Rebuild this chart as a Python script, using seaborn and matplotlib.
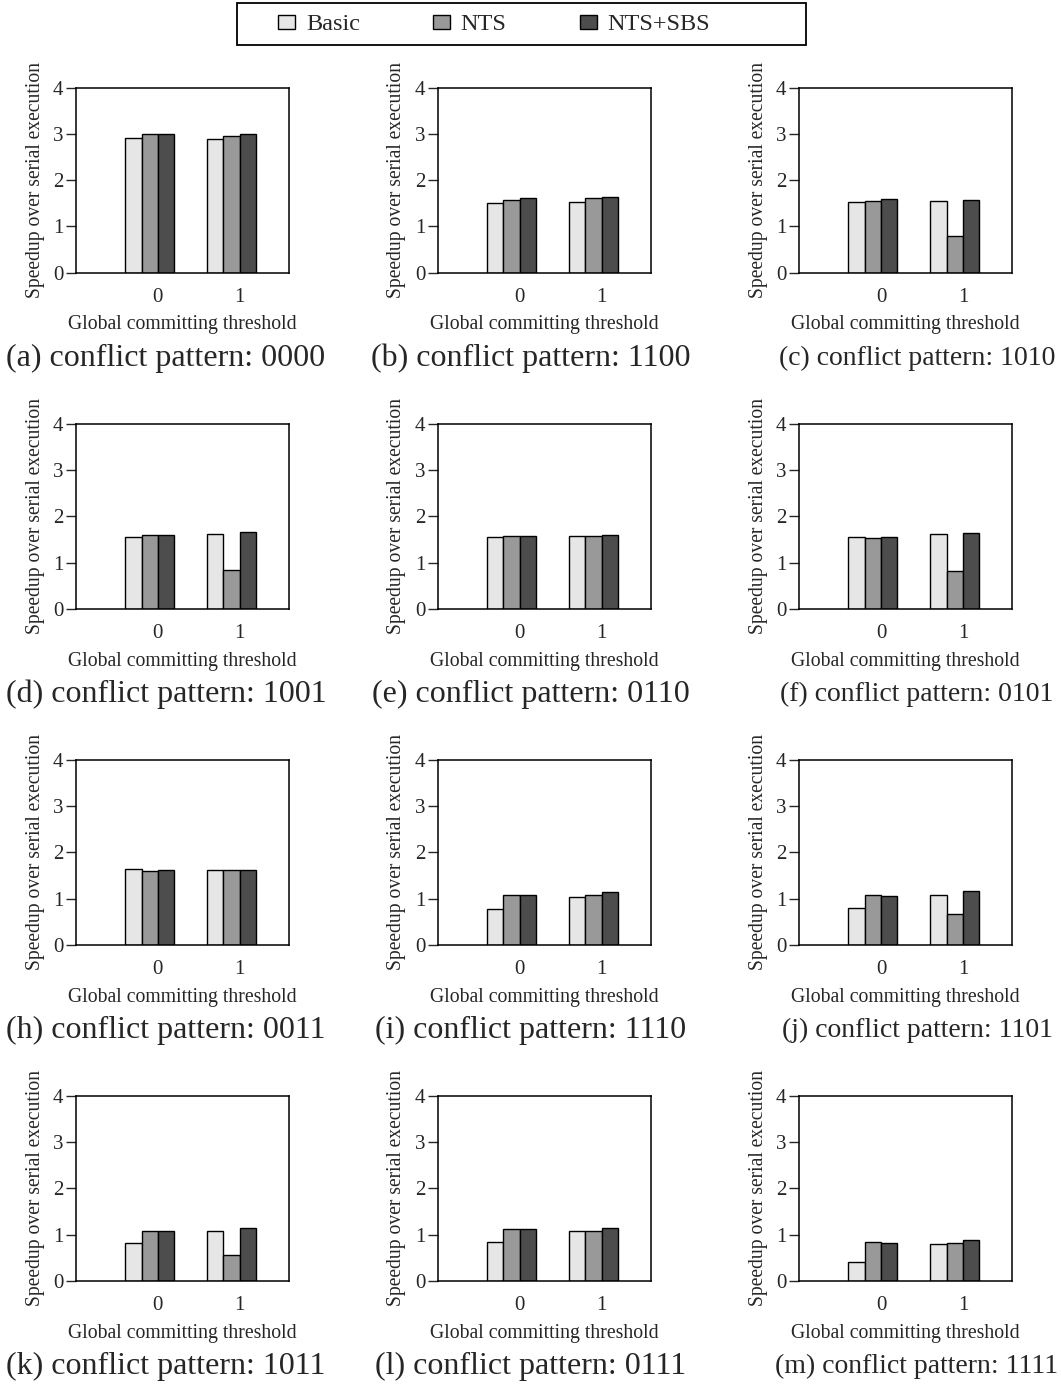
import numpy as np
import pandas as pd
import matplotlib
matplotlib.use("Agg")
import matplotlib.pyplot as plt
from matplotlib.patches import Rectangle
import seaborn as sns

schemes = ["Basic", "NTS", "NTS+SBS"]
thresholds = ["0", "1"]
letters = ["a", "b", "c", "d", "e", "f", "h", "i", "j", "k", "l", "m"]
patterns = ["0000", "1100", "1010", "1001", "0110", "0101",
            "0011", "1110", "1101", "1011", "0111", "1111"]

# speedup over serial execution, one value per panel (a..m)
basic_t0 = [2.92, 1.50, 1.52, 1.55, 1.56, 1.55, 1.65, 0.77, 0.79, 0.82, 0.84, 0.42]
basic_t1 = [2.90, 1.53, 1.55, 1.63, 1.57, 1.62, 1.63, 1.04, 1.09, 1.08, 1.08, 0.80]
nts_t0 = [2.99, 1.58, 1.55, 1.61, 1.57, 1.54, 1.60, 1.08, 1.08, 1.08, 1.13, 0.84]
nts_t1 = [2.96, 1.61, 0.79, 0.84, 1.58, 0.82, 1.62, 1.09, 0.66, 0.56, 1.08, 0.82]
sbs_t0 = [2.99, 1.62, 1.60, 1.61, 1.57, 1.56, 1.62, 1.07, 1.06, 1.08, 1.12, 0.83]
sbs_t1 = [2.99, 1.64, 1.58, 1.66, 1.60, 1.64, 1.63, 1.15, 1.16, 1.14, 1.15, 0.88]

colors = {"Basic": "#e6e6e6", "NTS": "#999999", "NTS+SBS": "#4d4d4d"}

sns.set_style("ticks")
plt.rcParams["font.family"] = ["Liberation Serif", "DejaVu Serif"]

W, H = 1061, 1385
fig = plt.figure(figsize=(W / 100, H / 100), dpi=100)

lefts = [0.0716, 0.4125, 0.7531]
bottoms = [0.8031, 0.5603, 0.3177, 0.0751]
w, h = 0.2008, 0.1336
cap_x = [166, 531, 917]
cap_y = [358, 694, 1030, 1366]
cap_size = [23, 23, 20]

series = {"Basic": (basic_t0, basic_t1),
          "NTS": (nts_t0, nts_t1),
          "NTS+SBS": (sbs_t0, sbs_t1)}

for i in range(12):
    r, c = divmod(i, 3)
    ax = fig.add_axes([lefts[c], bottoms[r], w, h])
    rows = []
    for s in schemes:
        for k, t in enumerate(thresholds):
            rows.append({"threshold": t, "scheme": s, "speedup": series[s][k][i]})
    df = pd.DataFrame(rows)
    sns.barplot(data=df, x="threshold", y="speedup", hue="scheme",
                order=thresholds, hue_order=schemes, palette=colors,
                width=0.6, edgecolor="black", linewidth=1.0, saturation=1,
                legend=(i == 0), ax=ax)
    ax.set_xlim(-0.9, 1.7)
    ax.set_ylim(0, 4)
    ax.set_yticks([0, 1, 2, 3, 4])
    ax.set_xticks(np.arange(len(thresholds)) + 0.1, thresholds)
    ax.tick_params(axis="y", length=7, width=1, labelsize=15, pad=2)
    ax.tick_params(axis="x", length=0, labelsize=15, pad=11)
    for sp in ax.spines.values():
        sp.set_visible(True)
        sp.set_color("black")
        sp.set_linewidth(1.1)
    ax.set_xlabel("Global committing threshold", fontsize=14.2, labelpad=6)
    ax.set_ylabel("Speedup over serial execution", fontsize=14.1, labelpad=6)
    fig.text(cap_x[c] / W, 1 - cap_y[r] / H,
             f"({letters[i]}) conflict pattern: {patterns[i]}",
             ha="center", va="center", fontsize=cap_size[c])
    if i == 0:
        handles, labels = ax.get_legend_handles_labels()
        ax.get_legend().remove()

leg = fig.legend(handles, labels, loc="center",
                 bbox_to_anchor=(494 / W, 1 - 25 / H), ncol=3,
                 fontsize=17.5, frameon=False,
                 handlelength=0.7, handleheight=0.5, handletextpad=0.45,
                 columnspacing=3.0, borderpad=0.2)
fig.patches.append(Rectangle((237 / W, 1 - 45 / H), (806 - 237) / W, 42 / H,
                             transform=fig.transFigure, fill=False,
                             edgecolor="black", linewidth=1.3))

fig.savefig("out.png", dpi=100)
